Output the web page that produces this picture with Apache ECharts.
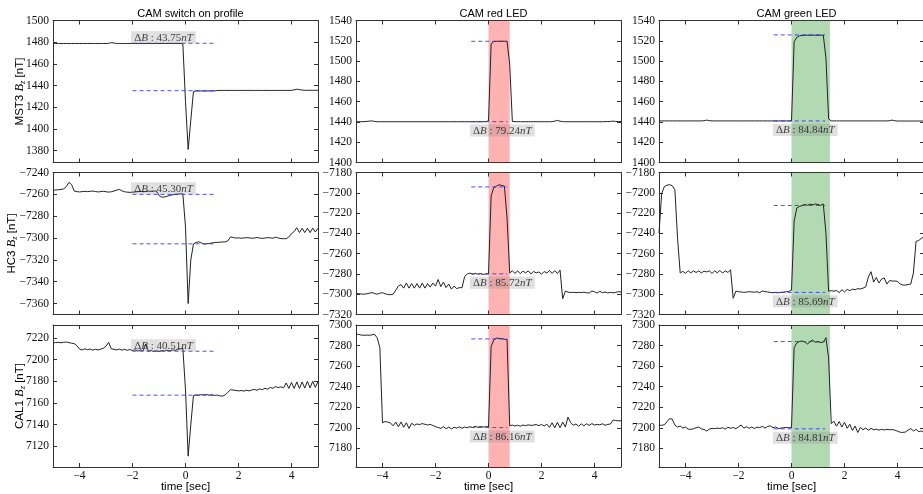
<!DOCTYPE html>
<html><head><meta charset="utf-8">
<script src="https://cdn.jsdelivr.net/npm/echarts@6/dist/echarts.min.js"></script>
<style>html,body{margin:0;padding:0;background:#fff}#c{width:923px;height:494px}</style>
</head><body><div id="c"></div>
<script>
// sample grid: -5 .. 5 s, 0.1 s step
const time = Array.from({length: 101}, (_, i) => +(-5 + i * 0.1).toFixed(1));

const mst3Switch = [
1478.8,1478.8,1478.8,1478.8,1478.8,1478.8,1478.8,1478.8,1478.8,1478.8,
1478.8,1478.8,1478.8,1478.8,1478.8,1478.8,1478.8,1478.8,1478.8,1478.8,
1478.8,1478.9,1479.6,1479.2,1478.8,1478.8,1478.8,1478.8,1478.8,1478.8,
1478.8,1478.8,1478.8,1478.8,1478.8,1478.8,1478.8,1478.8,1478.8,1478.8,
1478.8,1478.8,1478.8,1478.8,1478.8,1478.8,1478.8,1478.8,1478.8,1478.5,
1425,1381,1408,1434.5,1435,1435,1435,1435,1435,1435,
1435,1435.1,1435.4,1435.5,1435.5,1435.5,1435.5,1435.5,1435.5,1435.5,
1435.5,1435.5,1435.5,1435.5,1435.5,1435.5,1435.5,1435.5,1435.5,1435.5,
1435.5,1435.5,1435.5,1435.5,1435.5,1435.5,1435.5,1435.5,1435.5,1435.5,
1435.6,1436,1436.6,1436.2,1435.8,1435.6,1435.6,1435.6,1435.6,1435.6,1435.6];

const mst3Red = [
1440.2,1440.2,1440.2,1440.3,1440.5,1440.8,1441,1440.5,1440.2,1440.2,
1440.2,1440.2,1440.2,1440.2,1440.2,1440.2,1440.2,1440.2,1440.2,1440.2,
1440.2,1440.2,1440.2,1440.2,1440.2,1440.2,1440.2,1440.2,1440.2,1440.2,
1440.2,1440.2,1440.2,1440.2,1440.2,1440.2,1440.2,1440.2,1440.2,1440.2,
1440.2,1440.2,1440.2,1440.2,1440.2,1440.2,1440.2,1440.2,1440.2,1440.3,
1441,1517,1519.3,1519.5,1519.5,1519.5,1519.5,1519.4,1497,1440.5,
1440.3,1440.2,1440.2,1440.2,1440.2,1440.2,1440.2,1440.2,1440.2,1440.2,
1440.2,1440.2,1440.2,1440.2,1440.3,1440.8,1441.5,1440.7,1440.3,1440.2,
1440.2,1440.2,1440.2,1440.2,1440.2,1440.2,1440.2,1440.2,1440.2,1440.2,
1440.2,1440.2,1440.2,1440.2,1440.3,1440.4,1440.5,1440.8,1440.5,1440.4,1440.4];

const mst3Green = [
1441,1441,1441,1441,1441,1441,1441,1441,1441,1441,
1441,1441,1441,1441,1441,1441,1441,1441.2,1441.8,1441.3,
1441,1441,1441,1441,1441,1441,1441,1441,1441,1441,
1441,1441,1441,1441,1441,1441,1441,1441,1441,1441,
1441,1441,1441,1441,1441,1441,1441,1441,1441,1441,
1441,1519,1523.5,1524.8,1525.3,1525.5,1525.5,1525.5,1525.5,1525.5,
1525.5,1525.5,1525.5,1503,1443,1441,1441,1441,1441,1441,
1441,1441,1441,1441,1441,1441,1441,1441,1441,1441,
1441,1441,1441,1441,1441,1441,1441,1441.2,1441.8,1441.2,
1440.9,1440.9,1440.9,1440.9,1440.9,1440.9,1440.9,1440.9,1440.9,1440.9,1440.9];

const hc3Switch = [
-7256.3,-7256,-7255.8,-7255.5,-7255,-7253,-7249,-7251,-7257,-7257.5,
-7257.8,-7257.5,-7257.3,-7257.5,-7257.2,-7257,-7257.4,-7257.8,-7257.5,-7257.2,
-7257.6,-7258,-7257.6,-7257,-7256.2,-7255.4,-7256.8,-7257.6,-7258,-7258.2,
-7258,-7257.8,-7257.5,-7257.3,-7257.6,-7257.4,-7257.1,-7257.2,-7257,-7257,
-7261,-7262.5,-7262.5,-7261.8,-7261,-7260.5,-7260,-7259.8,-7259.5,-7259.5,
-7290,-7360,-7320,-7305.5,-7304,-7303.5,-7304.5,-7305.5,-7305.2,-7305,
-7304.5,-7304,-7304,-7303.8,-7303.6,-7303.5,-7302.5,-7299,-7299.5,-7300,
-7299.8,-7300.2,-7300,-7299.6,-7299.8,-7300.2,-7300,-7299.5,-7300,-7300.3,
-7300,-7299.6,-7299.8,-7300.2,-7299.2,-7300,-7300.5,-7300.6,-7300.6,-7299,
-7296,-7294,-7290.5,-7295,-7291,-7295,-7291,-7295,-7291,-7294.5,-7291];

const hc3Red = [
-7299.2,-7299.5,-7299.8,-7300,-7299.6,-7299,-7298.4,-7299.3,-7300,-7299,
-7298.5,-7299.5,-7300.3,-7300.5,-7300,-7296,-7292,-7290.5,-7294,-7289,
-7294,-7289.5,-7294,-7289.5,-7294,-7289,-7294,-7289.5,-7293,-7289,
-7292,-7285.5,-7292.5,-7288,-7293.5,-7290,-7295,-7292,-7294.5,-7293.5,
-7293.6,-7282.5,-7280,-7279.2,-7280.2,-7279.5,-7280.3,-7279.6,-7280.5,-7280,
-7280,-7203,-7195,-7193.5,-7192,-7192.8,-7193.3,-7225,-7279,-7277,
-7279.5,-7277,-7279.8,-7277.3,-7279,-7277,-7280,-7277.5,-7279,-7278,
-7280.3,-7277.6,-7279.2,-7276.5,-7279.5,-7276.8,-7279.5,-7276.2,-7304.5,-7297,
-7298,-7298.3,-7298.1,-7298.5,-7298.2,-7298.4,-7298,-7298.6,-7298.8,-7296.8,
-7297.6,-7298.8,-7297.2,-7298.5,-7297.8,-7298.8,-7298.2,-7298.6,-7298.2,-7297.5,-7297.8];

const hc3Green = [
-7240,-7201,-7194,-7192.5,-7192,-7193,-7197,-7245,-7279,-7277.5,
-7279.5,-7276.8,-7279,-7277,-7278.6,-7277,-7279,-7277.3,-7278,-7277,
-7279.5,-7277,-7279,-7276.5,-7279.2,-7277,-7278.5,-7276,-7304,-7297,
-7297.5,-7297.8,-7298.2,-7297.9,-7297.5,-7297.8,-7298,-7297.6,-7298.5,-7296.8,
-7297.4,-7297.8,-7298.3,-7298.5,-7298.3,-7298.6,-7298.2,-7298,-7297.6,-7297.2,
-7296,-7228,-7215,-7213.5,-7212.5,-7211.5,-7212.3,-7211.2,-7211.8,-7211,
-7211.6,-7212.4,-7211,-7240,-7297,-7296.5,-7297,-7296.3,-7298.5,-7295.5,
-7297.8,-7295.2,-7296.5,-7295,-7295.6,-7294.5,-7294.8,-7294,-7292.8,-7283,
-7277.8,-7288,-7283.5,-7289,-7285,-7284,-7290,-7286.5,-7287,-7287,
-7287.3,-7290,-7291,-7291,-7290.5,-7290,-7279,-7248,-7247,-7245,-7243.5];

const cal1Switch = [
7215.4,7215.8,7216,7215.6,7216,7216.3,7215.8,7215.2,7214.8,7213,
7209.8,7209,7210,7209.2,7209.8,7208.8,7209.6,7209,7209.8,7210.5,
7212.5,7216,7210,7209.6,7209,7209.8,7208.8,7209.6,7208.6,7209.4,
7208.4,7209.2,7208,7209,7208.2,7214.5,7207.8,7208.5,7207.6,7208.2,
7207.6,7208.4,7208,7208.6,7208.2,7209,7208.6,7209.4,7210,7210.6,
7172,7111,7140,7167,7167.5,7167.2,7167.8,7167.4,7167.8,7167.2,
7167.6,7167,7167.4,7166.6,7166.4,7167.5,7170,7172.3,7172,7171.6,
7171.2,7171.6,7171,7171.8,7171.2,7172,7172.6,7171.8,7173,7172.4,
7173.6,7172.8,7174.4,7173.6,7175.2,7174.2,7175,7174,7178.5,7173.5,
7179,7173.5,7179.5,7173.5,7179.5,7173.8,7180,7174,7180,7174.5,7180];

const cal1Red = [
7291.2,7290.8,7290.2,7290,7290.2,7290,7290.4,7291,7287.5,7278,
7205,7206.2,7205.6,7204.8,7202,7205.6,7201,7205.8,7200.6,7205,
7199.5,7204.5,7202.5,7203.8,7203.2,7204.2,7203.5,7202.8,7203.4,7202.4,
7201.2,7200.4,7199.6,7201.2,7199.2,7200.8,7199,7200.6,7199.8,7201,
7199.6,7200.8,7200.2,7201.2,7200.4,7201.6,7200.6,7201.4,7200.8,7201.2,
7201,7279,7285.5,7287.2,7287,7286.6,7286.2,7285.6,7202,7202.8,
7201.8,7202.6,7201.6,7202.8,7202.2,7203,7202.4,7202.8,7203.2,7202.2,
7203.4,7201.8,7203.6,7200.5,7205,7200,7205.4,7200.2,7205.6,7200.8,
7210.5,7205,7202.6,7203.8,7201.6,7204,7202,7204,7202.4,7204.2,
7202.8,7203.4,7203,7204,7202.6,7203.4,7203.8,7207.6,7207.2,7206.8,7207];

const cal1Green = [
7202.7,7202.5,7203,7206,7209,7208.5,7202.7,7200.8,7201.8,7199.8,
7200.8,7198.8,7198.6,7199.2,7200.2,7200.8,7199,7198.5,7197,7198.8,
7199.6,7199.2,7199.8,7199.4,7200.2,7198.8,7200.6,7199.6,7200.4,7199.2,
7201,7202.8,7199.8,7201.2,7199.6,7200.8,7199.4,7200.8,7200.2,7201.6,
7199.8,7201.4,7202,7200.2,7200.8,7199.4,7199.8,7200.2,7200.4,7200.2,
7200.4,7278,7282.5,7284,7284.4,7283.6,7281.5,7283.8,7285.4,7283.2,
7283.8,7283,7283.4,7287.7,7268,7204,7206.5,7201.6,7206.2,7200.8,
7205.5,7199.6,7203.5,7197.5,7201.8,7195.6,7200.5,7198.2,7199.8,7197.8,
7199.5,7198.2,7198.8,7197.8,7198.6,7198,7198.6,7198.2,7198.4,7197.8,
7196.8,7195.8,7195.6,7196,7197.8,7199.4,7197,7198.6,7196.4,7197,7195.6];

const panelTitles = ['CAM switch on profile', 'CAM red LED', 'CAM green LED'];
const sensorNames = ['MST3', 'HC3', 'CAL1'];
const xTickValues = [-4, -2, 0, 2, 4];
const yTickValues = [
  [1380, 1400, 1420, 1440, 1460, 1480, 1500],
  [1400, 1420, 1440, 1460, 1480, 1500, 1520, 1540],
  [1400, 1420, 1440, 1460, 1480, 1500, 1520, 1540],
  [-7360, -7340, -7320, -7300, -7280, -7260, -7240],
  [-7320, -7300, -7280, -7260, -7240, -7220, -7200, -7180],
  [-7320, -7300, -7280, -7260, -7240, -7220, -7200, -7180],
  [7120, 7140, 7160, 7180, 7200, 7220],
  [7180, 7200, 7220, 7240, 7260, 7280, 7300],
  [7180, 7200, 7220, 7240, 7260, 7280, 7300]];
const yRanges = [[1369, 1500], [1400, 1540], [1400, 1540],
  [-7370, -7240], [-7320, -7180], [-7320, -7180],
  [7101, 7232], [7162, 7300], [7162, 7300]];
const upperLevels = [1479.0, 1519.5, 1525.8, -7260.0, -7194.2, -7212.5, 7207.8, 7286.5, 7283.9];
const lowerLevels = [1435.25, 1440.26, 1440.96, -7305.3, -7279.92, -7298.19, 7167.29, 7200.34, 7199.09];
const deltaValues = ['43.75', '79.24', '84.84', '45.30', '85.72', '85.69', '40.51', '86.16', '84.81'];
const dashSpans = [[-2, 1.13], [-0.65, 0.71], [-0.67, 1.27]];
const labelX = [-2.05, -0.7, -0.7];
const ledBands = [null, [0, 0.8], [0, 1.45]];

const seriesData = [mst3Switch, mst3Red, mst3Green, hc3Switch, hc3Red, hc3Green, cal1Switch, cal1Red, cal1Green];

const colLeft = [53, 356, 659], colWidth = 265;
const rowTop = [20.5, 172.5, 325], rowHeight = 142;
const nameGaps = [26, 34, 26];
const SERIF = '"Liberation Serif", "Times New Roman", serif';
const SANS = '"Liberation Sans", Arial, sans-serif';
const bandColors = [null, 'rgba(255,0,0,0.3)', 'rgba(0,128,0,0.3)'];
const fmt = v => String(v).replace('-', '\u2212');

const grids = [], xAxes = [], yAxes = [], series = [], titles = [];
panelTitles.forEach((t, c) => titles.push({
  text: t, left: colLeft[c] + colWidth / 2, top: 3, textAlign: 'center',
  textStyle: {fontFamily: SANS, fontSize: 11, fontWeight: 'normal', color: '#000'}
}));

for (let r = 0; r < 3; r++) for (let c = 0; c < 3; c++) {
  const k = r * 3 + c;
  grids.push({left: colLeft[c], top: rowTop[r], width: colWidth, height: rowHeight, containLabel: false, outerBoundsMode: 'none'});
  const line = {show: true, onZero: false, lineStyle: {color: '#333', width: 1}};
  const xt = {show: true, inside: true, length: 4, lineStyle: {color: '#333'}, customValues: xTickValues};
  const yt = {show: true, inside: true, length: 4, lineStyle: {color: '#333'}, customValues: yTickValues[k]};
  xAxes.push({type: 'value', gridIndex: k, min: -5, max: 5, position: 'bottom', axisLine: line, axisTick: xt,
    splitLine: {show: false},
    axisLabel: {show: r === 2, customValues: xTickValues, formatter: fmt, fontFamily: SERIF, fontSize: 11.5, color: '#111', margin: 3},
    name: r === 2 ? 'time [sec]' : '', nameLocation: 'middle', nameGap: 14, nameMoveOverlap: false,
    nameTextStyle: {fontFamily: SANS, fontSize: 11.5, color: '#000'}});
  xAxes.push({type: 'value', gridIndex: k, min: -5, max: 5, position: 'top', axisLine: line, axisTick: xt,
    splitLine: {show: false}, axisLabel: {show: false}});
  yAxes.push({type: 'value', gridIndex: k, min: yRanges[k][0], max: yRanges[k][1], position: 'left', axisLine: line, axisTick: yt,
    splitLine: {show: false},
    axisLabel: {customValues: yTickValues[k], formatter: fmt, fontFamily: SERIF, fontSize: 11.5, color: '#111', margin: 4, showMinLabel: true, showMaxLabel: true},
    name: c === 0 ? sensorNames[r] + ' {b|B}{s|z} [nT]' : '', nameLocation: 'middle', nameGap: nameGaps[r], nameRotate: 90,
    nameMoveOverlap: false,
    nameTextStyle: {fontFamily: SANS, fontSize: 11.5, color: '#000',
      rich: {b: {fontFamily: SERIF, fontStyle: 'italic', fontSize: 12.5, color: '#000'},
             s: {fontFamily: SERIF, fontStyle: 'italic', fontSize: 8.5, color: '#000', verticalAlign: 'bottom', padding: [5, 0, 0, 0]}}}});
  yAxes.push({type: 'value', gridIndex: k, min: yRanges[k][0], max: yRanges[k][1], position: 'right', axisLine: line, axisTick: yt,
    splitLine: {show: false}, axisLabel: {show: false}});

  const s = {
    type: 'line', xAxisIndex: 2 * k, yAxisIndex: 2 * k,
    data: time.map((t, i) => [t, seriesData[k][i]]),
    showSymbol: false, symbol: 'none', lineStyle: {color: '#222', width: 1}, z: 3
  };
  if (ledBands[c]) {
    s.markArea = {silent: true, itemStyle: {color: bandColors[c]},
      data: [[{xAxis: ledBands[c][0]}, {xAxis: ledBands[c][1]}]]};
  }
  series.push(s);

  // dashed reference levels (drawn above the signal)
  const span = dashSpans[c];
  [upperLevels[k], lowerLevels[k]].forEach(level => series.push({
    type: 'line', xAxisIndex: 2 * k, yAxisIndex: 2 * k, z: 5, silent: true,
    showSymbol: false, symbol: 'none',
    data: [[span[0], level], [span[1], level]],
    lineStyle: {color: '#2f2fff', type: [4, 3], width: 1, opacity: 0.85}
  }));

  const above = c === 0;
  series.push({
    type: 'scatter', xAxisIndex: 2 * k, yAxisIndex: 2 * k, symbolSize: 0.1, z: 6, silent: true,
    itemStyle: {color: 'rgba(0,0,0,0)'},
    data: [[labelX[c], above ? upperLevels[k] : lowerLevels[k]]],
    label: {show: true, position: above ? [0, 0] : [0, 3], align: 'left', verticalAlign: above ? 'bottom' : 'top',
      backgroundColor: 'rgba(128,128,128,0.3)', padding: [1, 3, 0, 3],
      formatter: () => '{d|\u0394}{i|B}{n| : ' + deltaValues[k] + '}{i|nT}',
      rich: {d: {fontFamily: SERIF, fontSize: 11, color: '#111'},
             i: {fontFamily: SERIF, fontStyle: 'italic', fontSize: 11, color: '#111'},
             n: {fontFamily: SERIF, fontSize: 11, color: '#111'}}}
  });
}

const chart = echarts.init(document.getElementById('c'), null, {renderer: 'canvas'});
chart.setOption({animation: false, backgroundColor: '#fff', title: titles, grid: grids, xAxis: xAxes, yAxis: yAxes, series: series});
</script></body></html>
